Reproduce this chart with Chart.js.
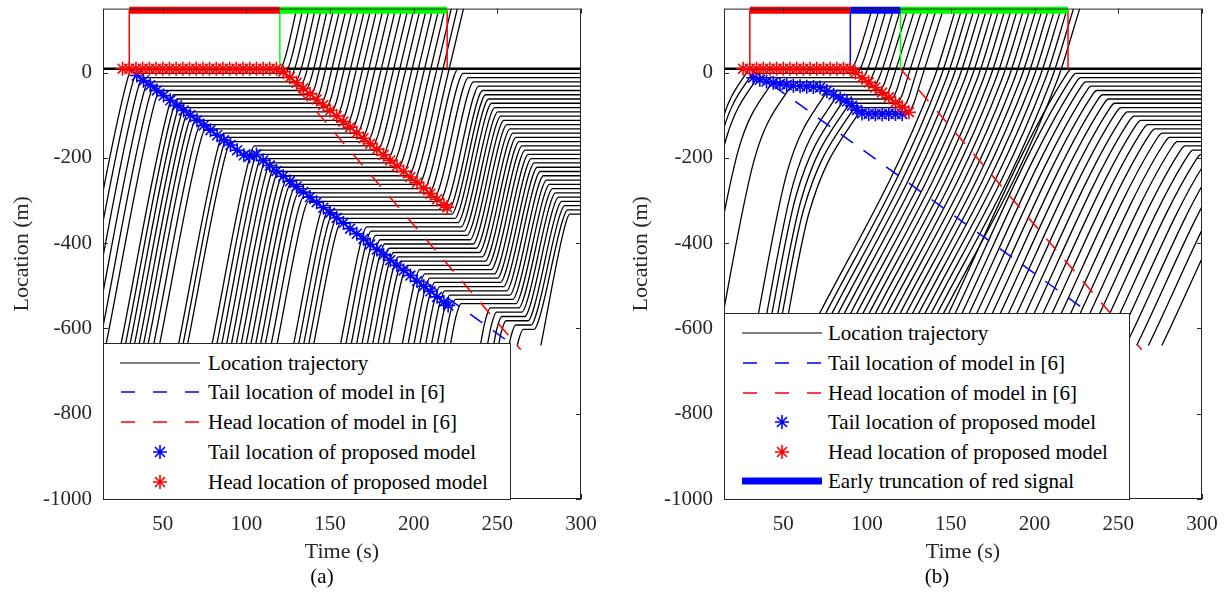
<!DOCTYPE html>
<html>
<head>
<meta charset="utf-8">
<script src="https://cdn.jsdelivr.net/npm/chart.js@4.4.1/dist/chart.umd.min.js"></script>
<style>
  body { margin: 0; background: #fff; font-family: "Liberation Serif", "Times New Roman", serif; }
  #wrap { position: relative; width: 1227px; height: 597px; overflow: hidden; }
  canvas { position: absolute; top: 0; }
  .legend { position: absolute; background: #fff; border: 1px solid #262626; box-sizing: border-box; }
  .row { position: absolute; left: 0; width: 100%; height: 30px; }
  .row svg { position: absolute; top: 0; }
  .row span { position: absolute; top: 0; font-size: 21px; line-height: 30px; white-space: nowrap; color: #000; }
  .cap { position: absolute; top: 564px; font-size: 21px; transform: translateX(-50%); color: #000; }
</style>
</head>
<body>
<div id="wrap">
  <canvas id="chartA" width="613" height="597" style="left:0"></canvas>
  <canvas id="chartB" width="614" height="597" style="left:613px"></canvas>
  <div class="cap" style="left:322px">(a)</div>
  <div class="cap" style="left:937px">(b)</div>
</div>
<script>
// ---- axes ----
const xTickValues = [50, 100, 150, 200, 250, 300];
const yTickValues = [-1000, -800, -600, -400, -200, 0];

// ---- panel (a): vehicles (entry time at -640 m, queue spot, departure, second stop) ----
const entryA = [-3.2, 0.3, 4.2, 8.2, 12.1, 16.0,
  24.9, 27.6, 30.3, 33.0, 35.7, 38.4, 41.1, 44.5, 48.0,
  59.3, 62.0, 64.7,
  79.3, 82.2, 85.1, 88.0, 90.9, 93.8, 96.7, 99.6, 102.5, 105.4, 108.3, 111.2, 114.7, 118.2,
  128.1, 131.1, 134.1, 137.1, 140.1,
  156.1, 159.3, 162.5, 165.7, 168.9, 172.1, 175.3, 178.5, 181.7, 185.0,
  193.0, 196.5, 200.0, 203.5, 207.0, 210.5, 214.0, 218.0, 221.8,
  239.8, 244.0, 247.7, 250.7, 257.0, 262.0, 276.0];
const stopA = [8, -2, -12, -22, -32, -42, -52, -62, -72, -82,
  -92, -102, -112, -122, -132, -142, -152, -162, -172, -182,
  -192, -202, -212, -222, -232, -242, -252, -262, -272, -282,
  -292, -302, -312, -322, -332, -342, -352, -362, -372, -382,
  -392, -402, -412, -422, -432, -442, -452, -462, -472, -482,
  -492, -502, -512, -522, -532, -542, -552, -562, -572, -582,
  -592, -602, null];
const goA = [120.0, 123.1, 126.2, 129.3, 132.3, 135.4, 138.5, 141.6, 144.7, 147.8,
  150.9, 154.0, 157.0, 160.1, 163.2, 166.3, 169.4, 172.5, 175.6, 178.6,
  181.7, 184.8, 187.9, 191.0, 194.1, 197.2, 200.2, 203.3, 206.4, 209.5,
  212.6, 215.7, 218.8, 221.1, 222.9, 224.7, 226.5, 228.4, 230.2, 232.0,
  233.8, 235.6, 237.5, 239.3, 241.1, 242.9, 244.7, 246.5, 248.4, 250.2,
  252.0, 253.8, 255.6, 257.5, 259.3, 261.1, 262.9, 264.7, 266.5, 268.4,
  270.2, 272.0, null];
const restopA = [null, null, null, null, null, null, null, null, null, null,
  null, null, null, null, null, null, null, null, null, null,
  null, null, null, null, null, null, null, null,
  8, -2, -12, -22, -32, -42, -52, -62, -72, -82,
  -92, -102, -112, -122, -132, -142, -152, -162, -172, -182,
  -192, -202, -212, -222, -232, -242, -252, -262, -272, -282,
  -292, -302, -312, -322, -332];

// proposed model markers (a)
const tailTimeA = [34.5, 38.5, 42.5, 46.5, 50.5, 54.5, 58.5, 62.5, 66.5, 70.5, 74.5, 78.5, 82.5, 86.5, 90.5, 94.5, 98.5,
  102, 106, 110,
  114, 118, 122, 126, 130, 134, 138, 142, 146, 150, 154, 158, 162, 166, 170, 174, 178, 182, 186, 190, 194, 198, 202, 206, 210, 214, 218, 220.6];
const tailLocA = [-7, -19, -30, -42, -54, -65, -77, -89, -100, -112, -124, -135, -147, -159, -170, -182, -194,
  -196, -192, -206,
  -218, -231, -243, -255, -267, -280, -292, -304, -317, -329, -341, -353, -366, -378, -390, -403, -415, -427, -440, -452, -464, -476, -489, -501, -513, -526, -538, -546];
const headTimeA = [26, 30, 34, 38, 42, 46, 50, 54, 58, 62, 66, 70, 74, 78, 82, 86, 90, 94, 98, 102, 106, 110, 114, 118,
  122, 126, 130, 134, 138, 142, 146, 150, 154, 158, 162, 166, 170, 174, 178, 182, 186, 190, 194, 198, 202, 206, 210, 214, 218, 220];
const headLocA = [9, 9, 9, 9, 9, 9, 9, 9, 9, 9, 9, 9, 9, 9, 9, 9, 9, 9, 9, 9, 9, 9, 9, 9,
  2, -11, -24, -37, -50, -63, -76, -89, -102, -115, -128, -141, -154, -167, -180, -193, -206, -219, -232, -245, -258, -271, -284, -297, -310, -316];

// ---- panel (b) ----
// vehicles caught by the red (fast, then slow, then stop)
const queueEntryB = [-13.7, -11.9, -9.1, -0.3, 10.4, 31.5, 36.5, 39.6, 43.1, 45.8, 49.4];
const queueSlowB = [-120, -140, -160, -180, -200, -230, -260, -290, -300, -320, -330];
const queueStopB = [8, -2, -12, -22, -32, -42, -52, -62, -72, -82, -92];
const queueGoB = [90.3, 93.8, 97.2, 100.7, 104.1, 107.6, 111.0, 114.5, 117.9, 121.4, 124.8];
// vehicles passing in the green without stopping
const passEntryB = [61.9, 65.6, 69.3, 73.0, 76.7, 80.4, 84.1, 87.8, 91.5, 95.2, 98.9,
  102.6, 106.3, 110.0, 113.7, 117.4, 121.1, 124.8, 128.5, 132.2, 135.9];
// vehicles stopped by the red after 220 s
const restopEntryB = [139.6, 143.5, 147.6, 151.9, 156.4, 161.0, 165.7, 170.5, 175.4, 180.4, 185.5, 190.7, 196.0,
  201.4, 206.9, 212.5, 218.2, 224.0, 229.9, 235.9, 242.0, 248.2, 254.5, 261.0, 268.0, 276.0];
const restopPosB = [8, -2, -12, -22, -32, -42, -52, -62, -72, -82, -92, -102, -112,
  -122, -132, -142, -152, -162, -172, -182, -192, -202, -212, -222, -232, -242];

const tailTimeB = [32, 36, 40, 44, 48, 52, 56, 60, 64, 68, 72, 76, 80, 84, 88, 91, 94, 97, 101, 105, 109, 113, 117, 121];
const tailLocB = [-12, -17, -21, -24, -27, -29, -31, -32, -33, -34, -35, -43, -52, -61, -68, -78, -88, -96, -97, -98, -98, -97, -97, -97];
const headTimeB = [26, 30, 34, 38, 42, 46, 50, 54, 58, 62, 66, 70, 74, 78, 82, 86, 90, 93, 97, 101, 105, 109, 113, 117, 121, 125];
const headLocB = [9, 9, 9, 9, 9, 9, 9, 9, 9, 9, 9, 9, 9, 9, 9, 9, 9, 0, -12, -23, -35, -47, -58, -70, -81, -93];

// model in [6] (same in both panels)
const tail6Time = [30, 258];
const tail6Loc = [9, -635];
const head6Time = [120, 264];
const head6Loc = [9, -650];

// signal phases
const phaseStartA = [30, 120];
const phaseEndA = [120, 220];
const phaseKindA = ['red', 'green'];
const phaseStartB = [30, 90, 120];
const phaseEndB = [90, 120, 220];
const phaseKindB = ['red', 'truncation', 'green'];
const redAgain = 220;
const stopLineLoc = 9;
const signalLoc = 146;

const legendTextA = ['Location trajectory', 'Tail location of model in [6]', 'Head location of model in [6]',
  'Tail location of proposed model', 'Head location of proposed model'];
const legendTextB = legendTextA.concat(['Early truncation of red signal']);

const FONT = "'Liberation Serif', 'Times New Roman', serif";
const AXIS = '#262626';
const colors = { red: '#ff0000', green: '#00ff00', truncation: '#0000ff', blue: '#0000ff' };

// build one trajectory from its read key values
function vehiclePath(te, ys, q, tg, q2, p) {
  const pts = [{ x: te, y: p.yIn }];
  let t = te, y = p.yIn, v = p.vFast;
  function add(nt, ny) {
    if (nt > t + 0.05) { pts.push({ x: nt, y: ny }); t = nt; y = ny; }
  }
  function stopAt(sq) {
    const d = 1.5 * v;
    if (sq - d > y) add(t + (sq - d - y) / v, sq - d);
    add(t + 3, sq);
  }
  if (ys !== null) {
    if (ys > y) add(t + (ys - y) / v, ys);
    v = p.vSlow;
  }
  if (q !== null) {
    stopAt(q);
    if (tg !== null && tg > t) add(tg, q);
    v = p.vOut;
    add(t + 3, q + 1.5 * v);
  }
  if (q2 !== null) {
    stopAt(q2);
    add(p.tEnd, q2);
  } else {
    if (y < p.yFree) add(t + (p.yFree - y) / v, p.yFree);
    v = p.vOut;
    add(t + (p.yTop - y) / v, p.yTop);
  }
  return pts;
}

function zip(xs, ys) { return xs.map((x, i) => ({ x: x, y: ys[i] })); }

function trajectory(pts) {
  return { data: pts, showLine: true, borderColor: '#000', borderWidth: 1.3, pointRadius: 0,
    cubicInterpolationMode: 'monotone', order: 10 };
}

function commonSets(xMin, headT, headY, tailT, tailY, pStart, pEnd, pKind) {
  const ds = [];
  ds.push({ data: zip(headT, headY), showLine: false, pointStyle: 'star', pointRadius: 7,
    borderColor: colors.red, borderWidth: 1.6, backgroundColor: 'transparent', order: 0 });
  ds.push({ data: zip(tailT, tailY), showLine: false, pointStyle: 'star', pointRadius: 7,
    borderColor: colors.blue, borderWidth: 1.6, backgroundColor: 'transparent', order: 1 });
  ds.push({ data: zip(tail6Time, tail6Loc), showLine: true, pointRadius: 0, borderColor: colors.blue,
    borderWidth: 1.5, borderDash: [15, 13], order: 2 });
  ds.push({ data: zip(head6Time, head6Loc), showLine: true, pointRadius: 0, borderColor: colors.red,
    borderWidth: 1.5, borderDash: [15, 13], order: 2 });
  // signal bars and their vertical markers
  pStart.forEach((s, i) => {
    const c = colors[pKind[i]];
    ds.push({ data: [{ x: s, y: signalLoc }, { x: pEnd[i], y: signalLoc }], showLine: true, pointRadius: 0,
      borderColor: c, borderWidth: 7, borderCapStyle: 'butt', clip: false, order: 3 });
    ds.push({ data: [{ x: s, y: signalLoc }, { x: s, y: stopLineLoc }], showLine: true, pointRadius: 0,
      borderColor: c, borderWidth: 1.5, clip: false, order: 3 });
  });
  ds.push({ data: [{ x: redAgain, y: signalLoc }, { x: redAgain, y: stopLineLoc }], showLine: true, pointRadius: 0,
    borderColor: colors.red, borderWidth: 1.5, clip: false, order: 3 });
  // stop line
  ds.push({ data: [{ x: xMin, y: stopLineLoc }, { x: 300, y: stopLineLoc }], showLine: true, pointRadius: 0,
    borderColor: '#000', borderWidth: 2.5, order: 4 });
  return ds;
}

// ---- datasets (a) ----
const paramsA = { yIn: -640, yTop: 150, yFree: -20, tEnd: 305, vFast: 19.5, vSlow: 19.5, vOut: 16.5 };
const setsA = commonSets(14.3, headTimeA, headLocA, tailTimeA, tailLocA, phaseStartA, phaseEndA, phaseKindA);
entryA.forEach((te, i) => {
  setsA.push(trajectory(vehiclePath(te, null, stopA[i], goA[i], restopA[i], paramsA)));
});

// ---- datasets (b) ----
const paramsB = { yIn: -640, yTop: 150, yFree: -20, tEnd: 305, vFast: 19.5, vSlow: 8, vOut: 12.5 };
const setsB = commonSets(14.6, headTimeB, headLocB, tailTimeB, tailLocB, phaseStartB, phaseEndB, phaseKindB);
queueEntryB.forEach((te, i) => {
  setsB.push(trajectory(vehiclePath(te, queueSlowB[i], queueStopB[i], queueGoB[i], null, paramsB)));
});
passEntryB.forEach(te => {
  setsB.push(trajectory(vehiclePath(te, -640, null, null, null, paramsB)));
});
restopEntryB.forEach((te, i) => {
  setsB.push(trajectory(vehiclePath(te, -640, null, null, restopPosB[i], paramsB)));
});

// box and inward ticks, like the original axes
const framePlugin = {
  id: 'frame',
  afterDraw(chart) {
    const { ctx, chartArea: a, scales } = chart;
    ctx.save();
    ctx.strokeStyle = AXIS;
    ctx.lineWidth = 1;
    ctx.strokeRect(a.left + 0.5, a.top + 0.5, a.right - a.left - 1, a.bottom - a.top - 1);
    ctx.beginPath();
    xTickValues.forEach(v => {
      const px = Math.round(scales.x.getPixelForValue(v)) + 0.5;
      ctx.moveTo(px, a.bottom); ctx.lineTo(px, a.bottom - 5);
      ctx.moveTo(px, a.top); ctx.lineTo(px, a.top + 5);
    });
    yTickValues.forEach(v => {
      const py = Math.round(scales.y.getPixelForValue(v)) + 0.5;
      ctx.moveTo(a.left, py); ctx.lineTo(a.left + 5, py);
      ctx.moveTo(a.right, py); ctx.lineTo(a.right - 5, py);
    });
    ctx.stroke();
    ctx.restore();
  }
};

function makeChart(id, datasets, xMin, yAxisWidth, padRight, yTitlePad) {
  return new Chart(document.getElementById(id), {
    type: 'scatter',
    data: { datasets: datasets },
    plugins: [framePlugin],
    options: {
      responsive: false,
      animation: false,
      devicePixelRatio: 1,
      events: [],
      layout: { padding: { left: 0, right: padRight, top: 8, bottom: 0 } },
      plugins: { legend: { display: false }, tooltip: { enabled: false } },
      scales: {
        x: {
          type: 'linear', min: xMin, max: 300,
          grid: { display: false, drawTicks: false },
          border: { display: false },
          afterBuildTicks: s => { s.ticks = xTickValues.map(v => ({ value: v })); },
          afterFit: s => { s.height = 98; s.paddingLeft = 0; s.paddingRight = 0; },
          ticks: { font: { family: FONT, size: 21 }, color: AXIS, padding: 13, maxRotation: 0, autoSkip: false,
            callback: v => String(v) },
          title: { display: true, text: 'Time (s)', font: { family: FONT, size: 22 }, color: AXIS,
            padding: { top: 0, bottom: 32 } }
        },
        y: {
          type: 'linear', min: -1000, max: 150,
          grid: { display: false, drawTicks: false },
          border: { display: false },
          afterBuildTicks: s => { s.ticks = yTickValues.map(v => ({ value: v })); },
          afterFit: s => { s.width = yAxisWidth; s.paddingTop = 0; s.paddingBottom = 0; },
          ticks: { font: { family: FONT, size: 21 }, color: AXIS, padding: 11, autoSkip: false,
            callback: v => String(v) },
          title: { display: true, text: 'Location (m)', font: { family: FONT, size: 22 }, color: AXIS,
            padding: { top: yTitlePad, bottom: 0 } }
        }
      }
    }
  });
}

makeChart('chartA', setsA, 14.3, 103, 32, 9);
makeChart('chartB', setsB, 14.6, 111, 25, 15);

// legends drawn over the plot, as in the figure
function sample(kind) {
  if (kind === 'line') return '<line x1="0" y1="15" x2="80" y2="15" stroke="#000" stroke-width="1.2"/>';
  if (kind === 'dashBlue' || kind === 'dashRed') {
    const c = kind === 'dashBlue' ? colors.blue : colors.red;
    return '<line x1="1" y1="15" x2="81" y2="15" stroke="' + c + '" stroke-width="1.5" stroke-dasharray="14 18"/>';
  }
  if (kind === 'thick') return '<line x1="0" y1="15" x2="80" y2="15" stroke="' + colors.blue + '" stroke-width="7"/>';
  const c = kind === 'starBlue' ? colors.blue : colors.red;
  return '<path d="M40 8V22M33 15H47M35 10L45 20M35 20L45 10" stroke="' + c + '" stroke-width="1.6" fill="none"/>';
}

function makeLegend(left, top, width, height, texts, kinds, centers, textLeft, sampleLeft) {
  const box = document.createElement('div');
  box.className = 'legend';
  box.style.left = left + 'px';
  box.style.top = top + 'px';
  box.style.width = width + 'px';
  box.style.height = height + 'px';
  texts.forEach((txt, i) => {
    const row = document.createElement('div');
    row.className = 'row';
    row.style.top = (centers[i] - 15) + 'px';
    row.innerHTML = '<svg width="84" height="30" style="left:' + sampleLeft + 'px">' + sample(kinds[i]) + '</svg>' +
      '<span style="left:' + textLeft + 'px">' + txt.replace('[', '&#91;') + '</span>';
    box.appendChild(row);
  });
  document.getElementById('wrap').appendChild(box);
}

const kindsA = ['line', 'dashBlue', 'dashRed', 'starBlue', 'starRed'];
makeLegend(103, 343, 408, 157, legendTextA, kindsA, [19, 48, 78, 108, 138], 104, 16);
makeLegend(724, 313, 406, 187, legendTextB, kindsA.concat(['thick']), [19, 49, 79, 108, 138, 167], 103, 17);
</script>
</body>
</html>
